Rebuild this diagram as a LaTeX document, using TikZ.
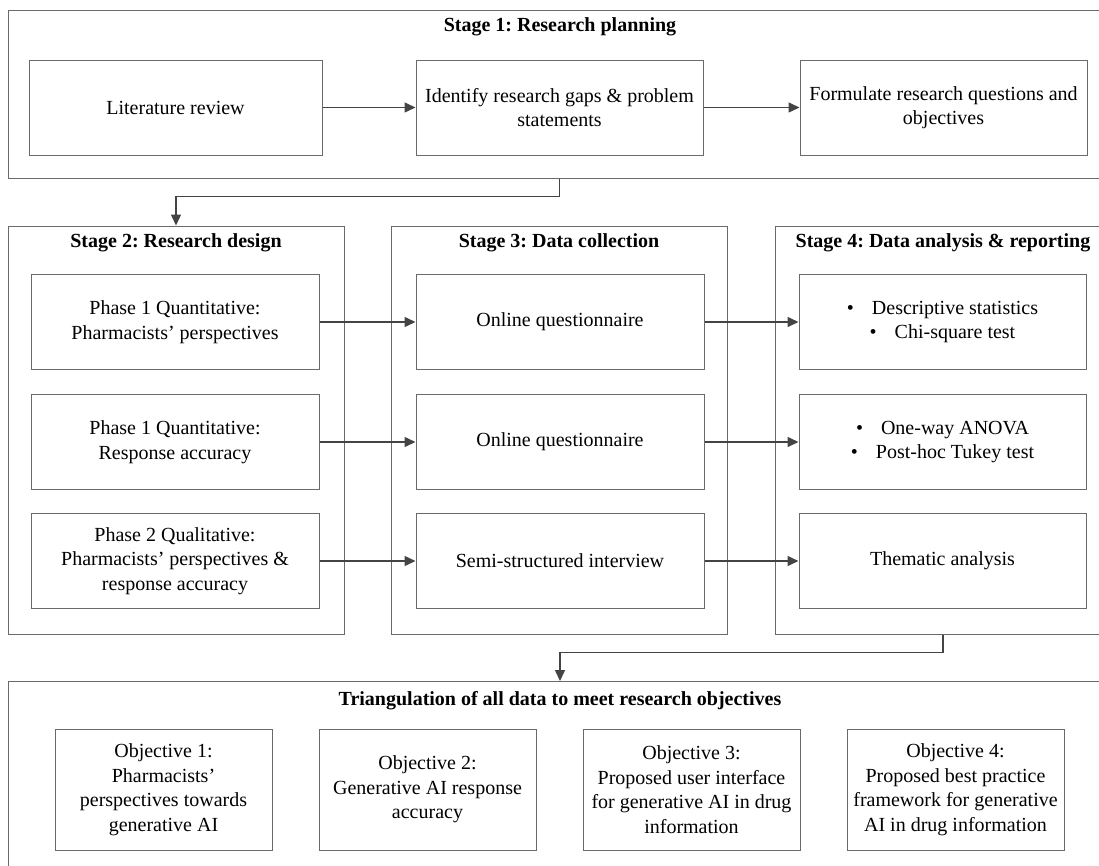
\documentclass[tikz,border=0pt]{standalone}
\usepackage{fontspec}
\setmainfont{Liberation Serif}
\usetikzlibrary{positioning,arrows.meta}
\definecolor{boxgray}{HTML}{6A6A6A}
\definecolor{arrowgray}{HTML}{444444}
\tikzset{
    stagebox/.style={draw=boxgray, line width=1pt, rectangle, inner sep=0pt},
    inbox/.style={draw=boxgray, line width=1pt, rectangle, align=center, inner sep=2pt,
        minimum width=288pt, minimum height=95pt, font=\fontsize{20}{24.5}\selectfont},
    objbox/.style={inbox, minimum width=217pt, minimum height=121pt},
    stagetitle/.style={inner sep=0pt, font=\fontsize{20}{24}\selectfont\bfseries},
    arrow/.style={draw=arrowgray, line width=1.5pt, -{Triangle[length=11pt,width=10pt]}}
}
\newcommand{\bul}{\textbullet\hspace{18pt}}
\frenchspacing
\begin{document}
\begin{tikzpicture}[x=1pt, y=-1pt]
            \useasboundingbox (0,0) rectangle (1099,865);
            \clip (0,0) rectangle (1099,865);
            % stage 1
            \node[stagebox, minimum width=1104pt, minimum height=168pt] (s1) at (560,94) {};
            \node[stagetitle, below=8pt of s1.north] (t1) {Stage 1: Research planning};
            \node[inbox, minimum width=293pt] (lit) at (175.5,107.5) {Literature review};
            \node[inbox, minimum width=287pt] (gaps) at (559.5,107.5) {Identify research gaps \& problem\\statements};
            \node[inbox, minimum width=287pt] (formq) at (943.5,107.5) {Formulate research questions and\\objectives};
            \draw[arrow] (lit) -- (gaps);
            \draw[arrow] (gaps) -- (formq);
            % stages 2 to 4
            \foreach \n/\x/\title in {
                2/176/Stage 2: Research design, 3/559/Stage 3: Data collection,
                4/943/Stage 4: Data analysis \& reporting
            } {
                \node[stagebox, minimum width=336pt, minimum height=408pt] (s\n) at (\x,430) {};
                \node[stagetitle, below=8pt of s\n.north] (t\n) {\title};
            }
            \node[inbox] (d1) at (175,322) {Phase 1 Quantitative:\\Pharmacists’ perspectives};
            \node[inbox] (d2) at (175,442) {Phase 1 Quantitative:\\Response accuracy};
            \node[inbox] (d3) at (175,561) {Phase 2 Qualitative:\\Pharmacists’ perspectives \&\\response accuracy};
            \node[inbox] (c1) at (560,322) {Online questionnaire};
            \node[inbox] (c2) at (560,442) {Online questionnaire};
            \node[inbox] (c3) at (560,561) {Semi-structured interview};
            \node[inbox, minimum width=287pt] (a1) at (942.5,322) {\bul Descriptive statistics\\\bul Chi-square test};
            \node[inbox, minimum width=287pt] (a2) at (942.5,442) {\bul One-way ANOVA\\\bul Post-hoc Tukey test};
            \node[inbox, minimum width=287pt] (a3) at (942.5,561) {Thematic analysis};
            \foreach \i in {1,2,3} {
                \draw[arrow] (d\i) -- (c\i);
                \draw[arrow] (c\i) -- (a\i);
            }
            % triangulation
            \node[stagebox, minimum width=1104pt, minimum height=230pt, anchor=north] (tri) at (560,681) {};
            \node[stagetitle, below=10pt of tri.north] (t5) {Triangulation of all data to meet research objectives};
            \node[objbox] (o1) at (163.5,789.5) {Objective 1:\\Pharmacists’\\perspectives towards\\generative AI};
            \node[objbox] (o2) at (427.5,789.5) {Objective 2:\\Generative AI response\\accuracy};
            \node[objbox] (o3) at (691.5,789.5) {Objective 3:\\Proposed user interface\\for generative AI in drug\\information};
            \node[objbox] (o4) at (955.5,789.5) {Objective 4:\\Proposed best practice\\framework for generative\\AI in drug information};
            % links between stages
            \draw[arrow] (s1.south -| gaps.center) -- ++(0,18) -| (s2.north);
            \draw[arrow] (s4.south) -- ++(0,18) -| (tri.north);
\end{tikzpicture}
\end{document}
